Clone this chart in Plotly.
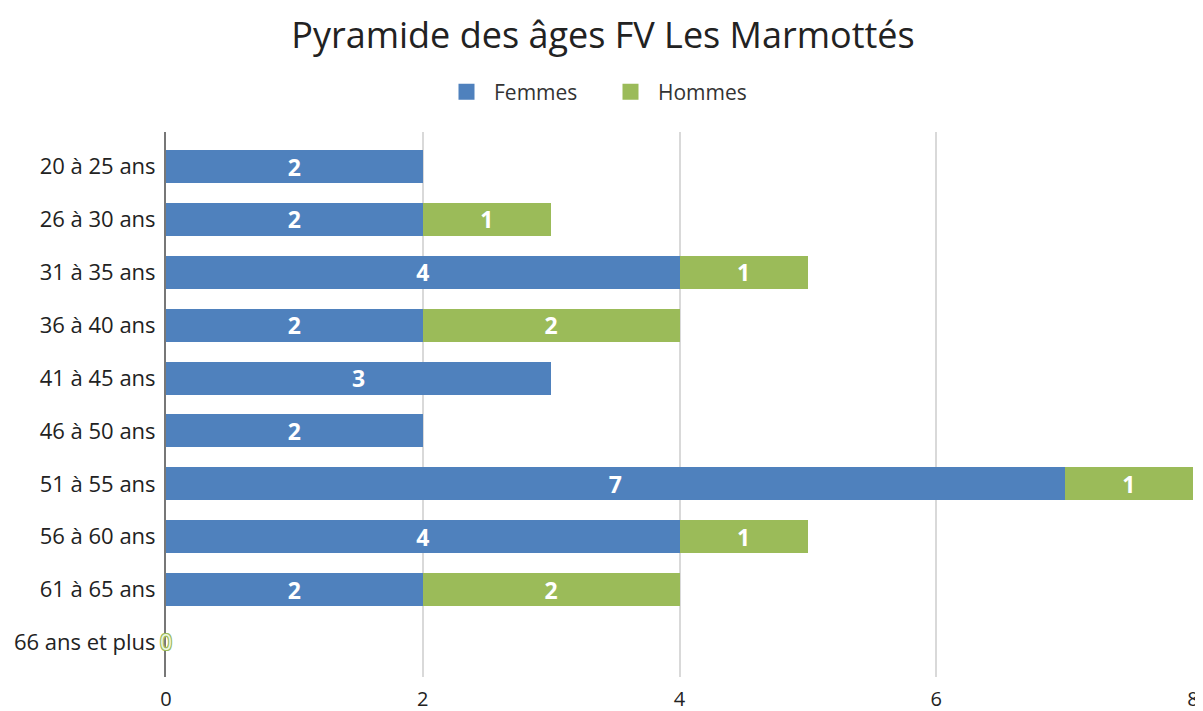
import plotly.graph_objects as go

categories = ["20 à 25 ans", "26 à 30 ans", "31 à 35 ans", "36 à 40 ans", "41 à 45 ans",
              "46 à 50 ans", "51 à 55 ans", "56 à 60 ans", "61 à 65 ans", "66 ans et plus"]
femmes = [2, 2, 4, 2, 3, 2, 7, 4, 2, 0]
hommes = [0, 1, 1, 2, 0, 0, 1, 1, 2, 0]
x_ticks = [0, 2, 4, 6, 8]

blue = "#4F81BD"
green = "#9BBB59"
FONT = "Open Sans"

f_text = [str(v) if v > 0 else "" for v in femmes]
h_text = [str(v) if v > 0 else "" for v in hommes]

fig = go.Figure()
fig.add_trace(go.Bar(
    y=categories, x=femmes, orientation="h", name="Femmes", showlegend=False,
    marker=dict(color=blue, line=dict(width=0)),
    text=f_text, textposition="inside", insidetextanchor="middle", textangle=0,
    constraintext="none",
    textfont=dict(color="white", size=23, family=FONT, weight="bold"),
    cliponaxis=False,
))
fig.add_trace(go.Bar(
    y=categories, x=hommes, orientation="h", name="Hommes", showlegend=False,
    marker=dict(color=green, line=dict(width=0)),
    text=h_text, textposition="inside", insidetextanchor="middle", textangle=0,
    constraintext="none",
    textfont=dict(color="white", size=23, family=FONT, weight="bold"),
    cliponaxis=False,
))
# legend entries (larger square swatches)
for name, col in [("Femmes", blue), ("Hommes", green)]:
    fig.add_trace(go.Scatter(
        x=[None], y=[None], mode="markers", name=name, showlegend=True,
        marker=dict(symbol="square", size=22, color=col),
    ))

# zero-value label for Hommes, centred on the (empty) bar end
annotations = []
for c, f, h in zip(categories, femmes, hommes):
    if f + h == 0:
        annotations.append(dict(
            x=f + h, y=c, xref="x", yref="y", text=str(h), showarrow=False,
            xanchor="center", yanchor="middle",
            font=dict(family=FONT, size=21, color="#eef5e2",
                      shadow="1px 1px 0 #9BBB59, -1px -1px 0 #9BBB59, 1px -1px 0 #9BBB59, -1px 1px 0 #9BBB59"),
        ))

n = len(categories)
fig.update_layout(
    width=1195, height=703,
    barmode="stack", bargap=0.376,
    paper_bgcolor="white", plot_bgcolor="white",
    margin=dict(l=158, r=10, t=124, b=34, autoexpand=False),
    title=dict(text="Pyramide des âges FV Les Marmottés", x=595 / 1195, xanchor="center",
               xref="container", y=0.9616, yanchor="middle",
               font=dict(family=FONT, size=36, color="#222222")),
    legend=dict(orientation="h", x=(595 - 158) / 1027, xanchor="center",
                y=1.0734, yanchor="middle",
                font=dict(family=FONT, size=21, color="#333333"),
                traceorder="normal", itemwidth=45,
                entrywidth=104, entrywidthmode="pixels"),
    annotations=annotations,
    font=dict(family=FONT, color="#222222"),
)
fig.update_xaxes(range=[0, 8], tickvals=x_ticks, showgrid=True, gridcolor="#d9d9d9",
                 gridwidth=1.5, zeroline=False, showline=False, automargin=False,
                 tickfont=dict(size=20, color="#222222"), ticks="", ticklabelstandoff=8)
fig.update_yaxes(range=[n - 1 + 0.653, -0.653], showline=True, linecolor="#777777", linewidth=2,
                 showgrid=False, automargin=False,
                 tickfont=dict(size=22, color="#222222"), ticks="", ticklabelstandoff=4)

fig.write_html("out.html")
